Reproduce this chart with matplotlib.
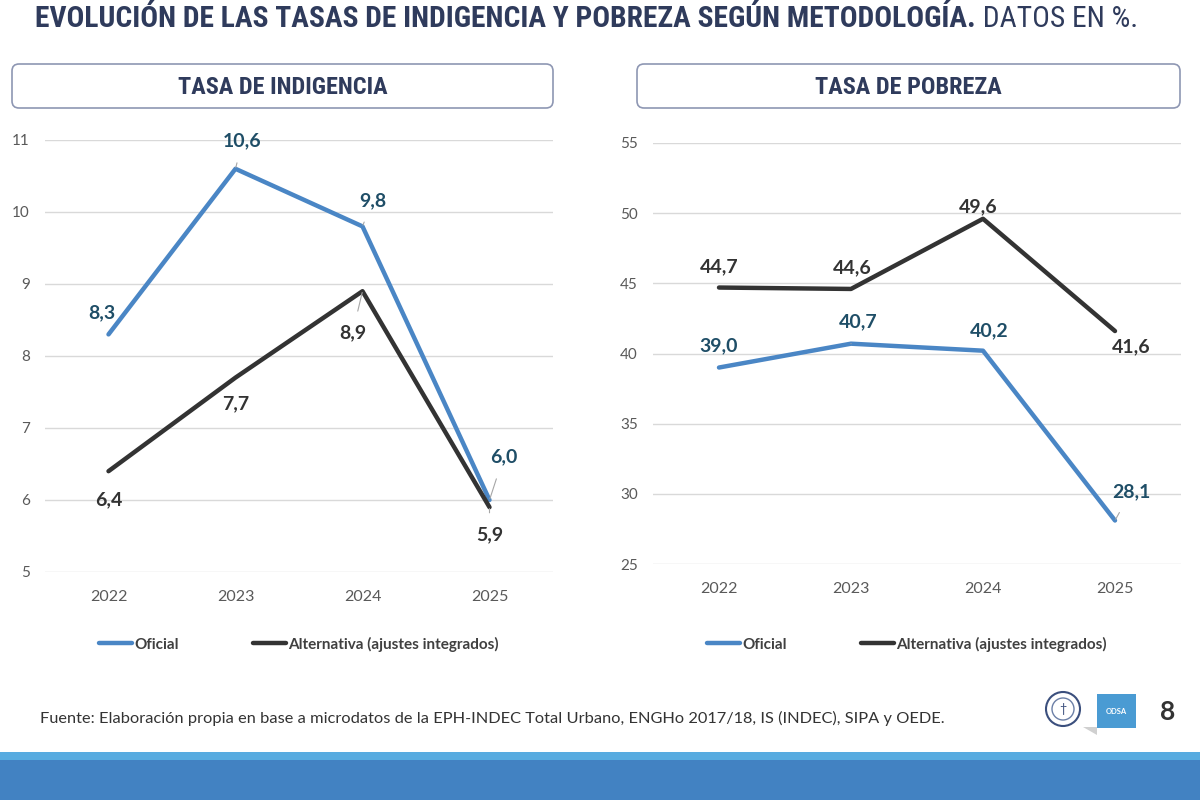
import matplotlib
matplotlib.use('Agg')
from matplotlib import pyplot as plt
from matplotlib import font_manager
from matplotlib.patches import FancyBboxPatch, Rectangle, Circle, Polygon

years = ['2022', '2023', '2024', '2025']

indig_oficial = [8.3, 10.6, 9.8, 6.0]
indig_alt = [6.4, 7.7, 8.9, 5.9]
pobre_oficial = [39.0, 40.7, 40.2, 28.1]
pobre_alt = [44.7, 44.6, 49.6, 41.6]

indig_ticks = [5, 6, 7, 8, 9, 10, 11]
pobre_ticks = [25, 30, 35, 40, 45, 50, 55]

legend_labels = ['Oficial', 'Alternativa (ajustes integrados)']

# label offsets in pixels (dx, dy) and whether a leader line is drawn
indig_of_off = [(-7, 22, False), (7, 28, True), (10, 26, True), (14, 43, True)]
indig_alt_off = [(0, -29, False), (0, -26, False), (-10, -42, True), (0, -28, True)]
pobre_of_off = [(0, 22, False), (7, 22, True), (6, 20, False), (16, 29, True)]
pobre_alt_off = [(0, 21, False), (1, 21, False), (-5, 12, False), (16, -16, False)]

BLUE = '#4a86c5'
BLACK = '#333333'
LBL_BLUE = '#1f4e67'
NAVY = '#2f3b5c'


def pick(names):
    for n in names:
        try:
            font_manager.findfont(n, fallback_to_default=False)
            return n
        except Exception:
            pass
    return 'DejaVu Sans'


MAIN = pick(['Lato', 'Open Sans', 'DejaVu Sans'])
NARROW = pick(['Liberation Sans Narrow', 'Roboto Condensed', 'Lato'])
plt.rcParams['font.family'] = [MAIN, 'DejaVu Sans']

fig = plt.figure(figsize=(12, 8), dpi=100)
fig.patch.set_facecolor('white')

# overlay in pixel units
bg = fig.add_axes([0, 0, 1, 1], zorder=-1)
bg.set_xlim(0, 1200)
bg.set_ylim(800, 0)
bg.axis('off')


def fit(ax, x, y, s, width, size, **kw):
    t = ax.text(x, y, s, fontsize=size, **kw)
    fig.canvas.draw()
    w = t.get_window_extent().width
    t.set_fontsize(size * width / w)
    return t


# title: bold part + regular part
t1 = bg.text(35, 19, 'EVOLUCIÓN DE LAS TASAS DE INDIGENCIA Y POBREZA SEGÚN METODOLOGÍA.',
             fontsize=20, fontweight='bold', family=NARROW, color=NAVY, va='center', ha='left')
t2 = bg.text(0, 19, ' DATOS EN %.', fontsize=20, family=NARROW, color=NAVY, va='center', ha='left')
fig.canvas.draw()
w1 = t1.get_window_extent().width
w2 = t2.get_window_extent().width
sc = 1105 / (w1 + w2)
t1.set_fontsize(20 * sc)
t2.set_fontsize(20 * sc)
fig.canvas.draw()
t2.set_x(35 + t1.get_window_extent().width)

# header boxes
for x0, x1, txt in [(12, 553, 'TASA DE INDIGENCIA'), (637, 1180, 'TASA DE POBREZA')]:
    box = FancyBboxPatch((x0, 64), x1 - x0, 44, boxstyle='round,pad=0,rounding_size=7',
                         fc='white', ec='#8e97b3', lw=1.2)
    bg.add_patch(box)
    bg.text((x0 + x1) / 2, 87, txt, fontsize=17.5, fontweight='bold', family=NARROW,
            color=NAVY, ha='center', va='center')


def panel(rect, oficial, alt, ticks, of_off, alt_off, leg_x, leg_y):
    ax = fig.add_axes(rect)
    x = list(range(len(years)))
    l1, = ax.plot(x, oficial, color=BLUE, lw=3.2, solid_capstyle='round', clip_on=False, zorder=3)
    l2, = ax.plot(x, alt, color=BLACK, lw=3.2, solid_capstyle='round', clip_on=False, zorder=3)
    ax.set_xlim(-0.5, 3.5)
    ax.set_ylim(ticks[0], ticks[-1])
    ax.set_yticks(ticks)
    ax.set_xticks(x)
    ax.set_xticklabels(years)
    ax.yaxis.grid(True, color='#d9d9d9', lw=1)
    ax.set_axisbelow(True)
    for s in ax.spines.values():
        s.set_visible(False)
    ax.tick_params(axis='x', length=0, pad=13, labelsize=11.5, labelcolor='#595959')
    ax.tick_params(axis='y', length=0, pad=11, labelsize=11, labelcolor='#595959')
    for vals, offs, col in [(oficial, of_off, LBL_BLUE), (alt, alt_off, BLACK)]:
        for i, v in enumerate(vals):
            dx, dy, lead = offs[i]
            ap = None
            if lead:
                ap = dict(arrowstyle='-', color='#a6a6a6', lw=0.8, shrinkA=8, shrinkB=1)
            ax.annotate(f'{v:.1f}'.replace('.', ','), (i, v), xytext=(dx, dy),
                        textcoords='offset pixels', ha='center', va='center',
                        fontsize=14, fontweight='bold', color=col, arrowprops=ap, zorder=4)
    leg = ax.legend([l1, l2], legend_labels, loc='center', ncol=2, frameon=False,
                    bbox_to_anchor=(leg_x, leg_y), handlelength=2.2, handletextpad=0.15,
                    columnspacing=4.8, prop=dict(weight='bold', size=11))
    for t in leg.get_texts():
        t.set_color('#404040')
    return ax


panel([45 / 1200, 1 - 572 / 800, 508 / 1200, 432 / 800], indig_oficial, indig_alt,
      indig_ticks, indig_of_off, indig_alt_off, 0.5, -0.167)
panel([653 / 1200, 1 - 564 / 800, 528 / 1200, 421 / 800], pobre_oficial, pobre_alt,
      pobre_ticks, pobre_of_off, pobre_alt_off, 0.481, -0.19)

# footer
fit(bg, 40, 718, 'Fuente: Elaboración propia en base a microdatos de la EPH-INDEC Total Urbano, '
    'ENGHo 2017/18, IS (INDEC), SIPA y OEDE.', 900, 11, color='#333333',
    ha='left', va='center')

# logos and page number
bg.add_patch(Circle((1063, 709), 17, fc='white', ec='#3b4f7d', lw=1.5))
bg.add_patch(Circle((1063, 709), 11, fc='white', ec='#6b7fa6', lw=1))
bg.text(1063, 709, '†', fontsize=9, color='#3b4f7d', ha='center', va='center')
bg.add_patch(Polygon([[1083, 727], [1097, 727], [1097, 735]], closed=True, fc='#d0d0d0', ec='none'))
bg.add_patch(Rectangle((1097, 694), 39, 34, fc='#4a9bd3', ec='none'))
bg.text(1116.5, 711, 'ODSA', fontsize=5.5, fontweight='bold', color='white', ha='center', va='center')
bg.text(1168, 712, '8', fontsize=19, fontweight='bold', color='#333333', ha='center', va='center')

# bottom bars
bg.add_patch(Rectangle((0, 752), 1200, 9, fc='#57abe0', ec='none'))
bg.add_patch(Rectangle((0, 760), 1200, 40, fc='#4282c2', ec='none'))

fig.savefig('out.png', dpi=100)
